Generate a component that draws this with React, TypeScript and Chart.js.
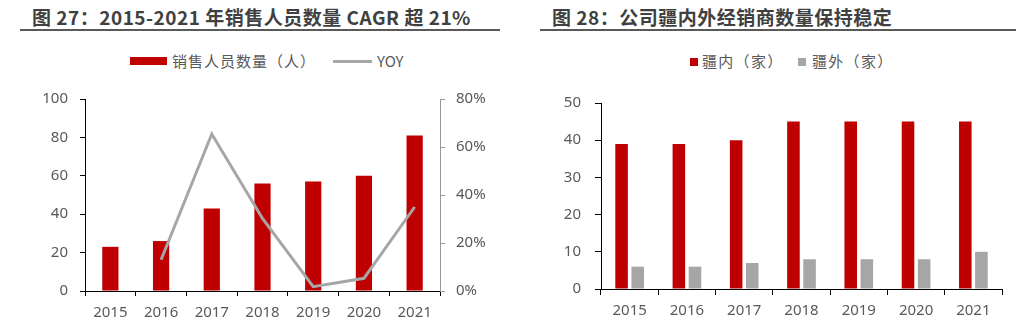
import React, { useEffect, useRef } from "react";
import { Chart, registerables } from "chart.js";

Chart.register(...registerables);

const years = ["2015", "2016", "2017", "2018", "2019", "2020", "2021"];
const salesStaff = [23, 26, 43, 56, 57, 60, 81];
const staffYoY = [null, 13.0, 65.4, 30.2, 1.8, 5.3, 35.0];
const domesticDealers = [39, 39, 40, 45, 45, 45, 45];
const overseasDealers = [6, 6, 7, 8, 8, 8, 10];

const title1 = "图 27：2015-2021 年销售人员数量 CAGR 超 21%";
const title2 = "图 28：公司疆内外经销商数量保持稳定";
const legendStaff = "销售人员数量（人）";
const legendYoY = "YOY";
const legendDomestic = "疆内（家）";
const legendOverseas = "疆外（家）";

const RED = "#c00000";
const GRAY = "#a6a6a6";
const TXT = "#595959";
const FONT = "'Noto Sans', 'Noto Sans CJK SC', sans-serif";

const tickFont = { family: FONT, size: 15 };

function StaffChart() {
  const ref = useRef<HTMLCanvasElement>(null);
  useEffect(() => {
    const chart = new Chart(ref.current!, {
      type: "bar",
      data: {
        labels: years,
        datasets: [
          {
            type: "line",
            label: legendYoY,
            data: staffYoY as any,
            yAxisID: "y1",
            borderColor: GRAY,
            backgroundColor: GRAY,
            borderWidth: 3,
            pointRadius: 0,
            tension: 0,
            order: 0,
          } as any,
          {
            type: "bar",
            label: legendStaff,
            data: salesStaff,
            yAxisID: "y",
            backgroundColor: RED,
            barPercentage: 0.32,
            categoryPercentage: 1,
            order: 1,
          },
        ],
      },
      options: {
        responsive: false,
        animation: false,
        layout: { padding: { top: 21, left: 0, right: 0, bottom: 0 } },
        plugins: { legend: { display: false }, tooltip: { enabled: false } },
        scales: {
          x: {
            offset: true,
            grid: { display: true, drawOnChartArea: false, drawTicks: true, tickLength: 5, color: "#000", offset: true },
            border: { display: true, color: "#000", width: 1 },
            ticks: { color: TXT, font: tickFont, padding: 8, maxRotation: 0 },
            afterFit: (s: any) => { s.height = 34; },
          },
          y: {
            position: "left",
            min: 0,
            max: 100,
            ticks: { stepSize: 20, color: TXT, font: tickFont, padding: 12 },
            grid: { display: true, drawOnChartArea: false, drawTicks: true, tickLength: 5, color: "#000" },
            border: { display: true, color: "#000", width: 1 },
            afterFit: (s: any) => { s.width = 65; },
          },
          y1: {
            position: "right",
            min: 0,
            max: 80,
            ticks: { stepSize: 20, color: TXT, font: tickFont, padding: 11, callback: (v: any) => v + "%" },
            grid: { display: true, drawOnChartArea: false, drawTicks: true, tickLength: 5, color: "#999" },
            border: { display: true, color: "#999", width: 1 },
            afterFit: (s: any) => { s.width = 60; },
          },
        },
      } as any,
    });
    return () => chart.destroy();
  }, []);
  return <canvas ref={ref} width={480} height={247} style={{ position: "absolute", left: 20, top: 78 }} />;
}

function DealerChart() {
  const ref = useRef<HTMLCanvasElement>(null);
  useEffect(() => {
    const chart = new Chart(ref.current!, {
      type: "bar",
      data: {
        labels: years,
        datasets: [
          {
            label: legendDomestic,
            data: domesticDealers,
            backgroundColor: RED,
            barPercentage: 0.78,
            categoryPercentage: 0.5625,
          },
          {
            label: legendOverseas,
            data: overseasDealers,
            backgroundColor: GRAY,
            barPercentage: 0.78,
            categoryPercentage: 0.5625,
          },
        ],
      },
      options: {
        responsive: false,
        animation: false,
        layout: { padding: { top: 20, left: 0, right: 14, bottom: 0 } },
        plugins: { legend: { display: false }, tooltip: { enabled: false } },
        scales: {
          x: {
            offset: true,
            grid: { display: true, drawOnChartArea: false, drawTicks: true, tickLength: 6, color: "#000", offset: true },
            border: { display: true, color: "#000", width: 1 },
            ticks: { color: TXT, font: tickFont, padding: 7, maxRotation: 0 },
            afterFit: (s: any) => { s.height = 36; },
          },
          y: {
            position: "left",
            min: 0,
            max: 50,
            ticks: { stepSize: 10, color: TXT, font: tickFont, padding: 14 },
            grid: { display: true, drawOnChartArea: false, drawTicks: true, tickLength: 6, color: "#000" },
            border: { display: true, color: "#000", width: 1 },
            afterFit: (s: any) => { s.width = 61; },
          },
        },
      } as any,
    });
    return () => chart.destroy();
  }, []);
  return <canvas ref={ref} width={476} height={245} style={{ position: "absolute", left: 540, top: 80 }} />;
}

const titleStyle = (left: number, width: number, padLeft: number): React.CSSProperties => ({
  position: "absolute",
  left,
  top: 0,
  width,
  height: 31,
  boxSizing: "border-box",
  paddingLeft: padLeft,
  paddingTop: 6,
  borderBottom: "2px solid #595959",
  fontFamily: "'Noto Sans CJK SC', sans-serif",
  fontWeight: 700,
  fontSize: 19,
  letterSpacing: "0.5px",
  lineHeight: "22px",
  color: "#404040",
  whiteSpace: "nowrap",
});

const legendText = (left: number, spacing: number): React.CSSProperties => ({
  position: "absolute",
  left,
  top: 51,
  fontFamily: "'Noto Sans CJK SC', sans-serif",
  fontSize: 15,
  letterSpacing: spacing + "px",
  lineHeight: "20px",
  color: TXT,
  whiteSpace: "nowrap",
});

export default function App() {
  return (
    <div style={{ position: "absolute", left: 0, top: 0, width: 1016, height: 325, background: "#fff", overflow: "hidden" }}>
      <div style={titleStyle(20, 480, 12)}>{title1}</div>
      <div style={titleStyle(540, 476, 12)}>{title2}</div>

      <div style={{ position: "absolute", left: 130, top: 57, width: 37, height: 8, background: RED }} />
      <div style={legendText(172, 1)}>{legendStaff}</div>
      <div style={{ position: "absolute", left: 333, top: 60, width: 39, height: 3, background: GRAY }} />
      <div style={legendText(377, 0)}>{legendYoY}</div>

      <div style={{ position: "absolute", left: 690, top: 58, width: 8, height: 8, background: RED }} />
      <div style={legendText(702, 1.3)}>{legendDomestic}</div>
      <div style={{ position: "absolute", left: 798, top: 58, width: 8, height: 8, background: GRAY }} />
      <div style={legendText(812, 1.3)}>{legendOverseas}</div>

      <StaffChart />
      <DealerChart />
    </div>
  );
}
